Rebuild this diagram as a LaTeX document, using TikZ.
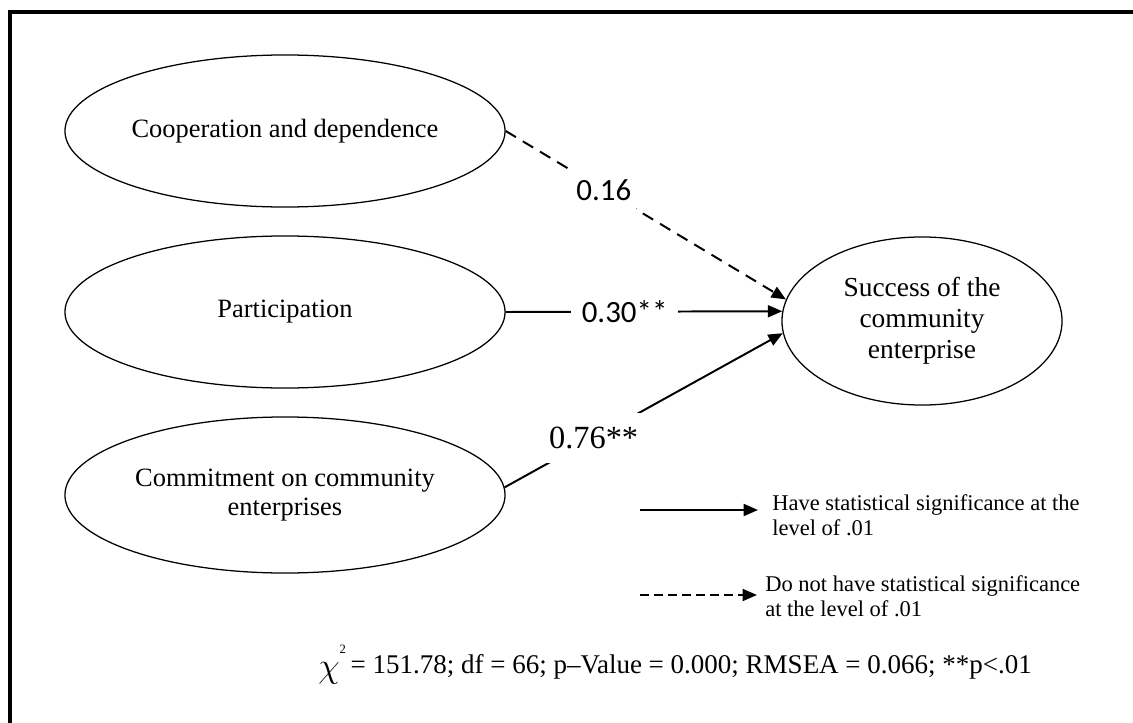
\documentclass[tikz,border=0pt]{standalone}
\usepackage{fontspec}
\setmainfont{Liberation Serif}
\newfontfamily\calfont{Carlito}
\usetikzlibrary{shapes.geometric,arrows.meta}
\tikzset{
  latent/.style={draw, ellipse, line width=0.9pt, inner sep=0pt},
  vartext/.style={align=center, font=\fontsize{18.8}{20}\selectfont},
  effect/.style={line width=1.4pt, -{Triangle[length=0.36cm,width=0.3cm]}},
  nonsig/.style={effect, dash pattern=on 0.3cm off 0.2cm},
  coef/.style={fill=white, inner xsep=0.12cm, inner ysep=0.35cm, font=\calfont\fontsize{22}{22}\selectfont},
  legtext/.style={anchor=west, align=left, inner sep=0pt, font=\fontsize{16}{17.7}\selectfont},
}
\begin{document}
\begin{tikzpicture}[x=0.025cm,y=-0.025cm]
      \useasboundingbox (0,0) rectangle (1133,723);
      \draw[line width=2.6pt] (10,723) -- (10,12) -- (1133,12);
      \draw
        (285,131) node[latent, minimum width=11cm, minimum height=3.8cm] (coop){}
        (285,312) node[latent, minimum width=11cm, minimum height=3.8cm] (part){}
        (285,495) node[latent, minimum width=11cm, minimum height=3.9cm] (comm){}
        (922,321) node[latent, minimum width=7cm, minimum height=4.2cm] (succ){};
      \draw
        (coop) node[vartext] (coop-t){Cooperation and dependence}
        (part) node[vartext] (part-t){Participation}
        (comm) node[vartext] (comm-t){Commitment on community\\enterprises}
        (succ) node[vartext, font=\fontsize{19.5}{22}\selectfont] (succ-t){Success of the\\community\\enterprise};
      \begin{scope}
        \draw[nonsig] (coop.east) -- node[coef, pos=0.35] (c1){0.16} (succ.171);
        \draw[effect] (part.east) -- node[coef, pos=0.43, inner xsep=0.27cm] (c2){0.30**} (succ.176);
        \draw[effect] (comm.2) -- node[coef, pos=0.32, inner xsep=0.08cm, font=\fontsize{23}{23}\selectfont] (c3){0.76**} (succ.185);
      \end{scope}
      % legend
      \coordinate (sig-a) at (640,510);
      \coordinate (nsig-a) at (640,595);
      \node[legtext] (sig-t) at (772,515) {Have statistical significance at the\\level of .01};
      \node[legtext] (nsig-t) at (765,596) {Do not have statistical significance\\at the level of .01};
      \draw[effect] (sig-a) -- ([xshift=-0.35cm]sig-a -| sig-t.west);
      \draw[effect, dash pattern=on 0.22cm off 0.13cm] (nsig-a) -- ([xshift=-0.2cm]nsig-a -| nsig-t.west);
      \node[anchor=base west, inner sep=0pt, font=\fontsize{19.2}{19.2}\selectfont] (fit) at (318,673)
        {\raisebox{-0.12cm}{\fontsize{34}{34}\selectfont$\chi$}\raisebox{0.48cm}{\fontsize{9}{9}\selectfont 2}\,= 151.78; df = 66; p–Value = 0.000; RMSEA = 0.066; **p<.01};
    \end{tikzpicture}
\end{document}
